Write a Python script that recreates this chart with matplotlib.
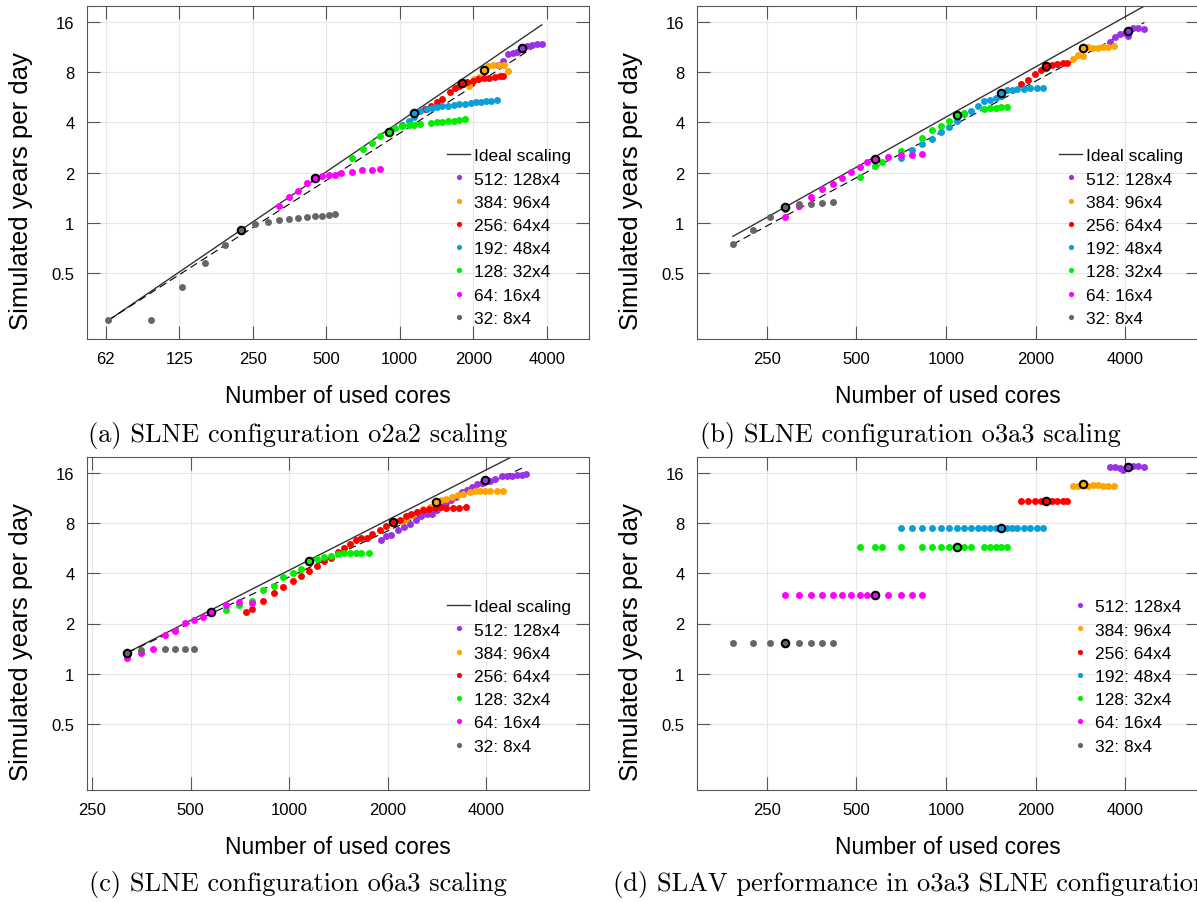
import numpy as np
import matplotlib
matplotlib.use('Agg')
import matplotlib.pyplot as plt
from matplotlib.ticker import NullLocator, FixedLocator, FixedFormatter

plt.rcParams['font.family'] = ['Liberation Sans', 'DejaVu Sans']

# Legend labels and colours, in legend order
labels = ['512: 128x4', '384: 96x4', '256: 64x4', '192: 48x4', '128: 32x4', '64: 16x4', '32: 8x4']
colors = ['#9a32e6', '#ffa500', '#ff0000', '#0a9fd8', '#00ee00', '#ff00ff', '#666666']

yticks = [0.5, 1, 2, 4, 8, 16]
ytick_labels = ['0.5', '1', '2', '4', '8', '16']

# ---- (a) SLNE o2a2 ----
a512_x = [2520, 2640, 2780, 2920, 3030, 3180, 3320, 3480, 3640, 3820]
a512_y = [8.83, 9.38, 10.23, 10.47, 10.62, 11.22, 11.49, 11.65, 11.76, 11.86]
a384_x = [1919, 2023, 2113, 2210, 2301, 2404, 2561, 2676, 2778]
a384_y = [6.64, 7.31, 7.48, 8.24, 8.71, 8.83, 8.83, 8.83, 8.13]
a256_x = [1274, 1344, 1418, 1496, 1608, 1686, 1756, 1796, 1883, 1991, 2100, 2216, 2331, 2451, 2569, 2659]
a256_y = [4.79, 5.01, 5.30, 5.52, 6.11, 6.40, 6.64, 6.86, 6.95, 7.08, 7.25, 7.35, 7.41, 7.48, 7.55, 7.62]
a192_x = [1024, 1089, 1149, 1216, 1290, 1357, 1418, 1496, 1578, 1665, 1756, 1858, 1954, 2054, 2161, 2264, 2375, 2495]
a192_y = [3.84, 4.06, 4.33, 4.70, 4.79, 4.85, 4.92, 4.99, 5.04, 5.08, 5.13, 5.18, 5.22, 5.27, 5.30, 5.35, 5.40, 5.42]
a128_x = [640, 706, 771, 834, 900, 960, 1024, 1089, 1149, 1216, 1344, 1418, 1496, 1578, 1665, 1756, 1858]
a128_y = [2.455, 2.755, 3.02, 3.297, 3.55, 3.68, 3.80, 3.84, 3.87, 3.89, 3.96, 4.0, 4.02, 4.06, 4.07, 4.11, 4.17]
a64_x = [320, 352, 384, 416, 448, 480, 512, 544, 576, 640, 704, 768, 832]
a64_y = [1.259, 1.426, 1.556, 1.738, 1.853, 1.906, 1.923, 1.941, 1.986, 2.023, 2.06, 2.08, 2.109]
a32_x = [64, 96, 128, 160, 192, 224, 256, 288, 320, 352, 384, 416, 448, 480, 512, 544]
a32_y = [0.259, 0.259, 0.411, 0.57, 0.735, 0.904, 0.977, 1.009, 1.037, 1.057, 1.072, 1.081, 1.097, 1.102, 1.112, 1.122]
# highlighted runs (black rings), smallest series first
a_circ_x = [224, 448, 900, 1149, 1796, 2210, 3180]
a_circ_y = [0.904, 1.853, 3.484, 4.53, 6.86, 8.24, 11.22]
a_fit_exp = 0.941

# ---- (b) SLNE o3a3 ----
b512_x = [3562, 3701, 3848, 4000, 4096, 4245, 4412, 4645]
b512_y = [12.19, 12.95, 13.49, 13.81, 13.25, 14.66, 14.66, 14.52]
b384_x = [2682, 2788, 2882, 2995, 3113, 3236, 3365, 3498, 3683]
b384_y = [9.55, 10.14, 10.05, 11.27, 11.12, 11.12, 11.38, 11.38, 11.49]
b256_x = [1792, 1888, 1984, 2080, 2176, 2272, 2368, 2464, 2560]
b256_y = [6.76, 7.18, 7.76, 8.21, 8.43, 8.83, 9.0, 9.04, 9.04]
b192_x = [704, 768, 832, 896, 960, 1024, 1088, 1152, 1216, 1280, 1344, 1408, 1472, 1536, 1600, 1664, 1728, 1824, 1920, 2016, 2112]
b192_y = [2.455, 2.717, 2.965, 3.19, 3.52, 3.73, 4.07, 4.47, 4.68, 4.99, 5.40, 5.45, 5.57, 5.76, 6.22, 6.25, 6.34, 6.34, 6.40, 6.40, 6.40]
b128_x = [512, 576, 608, 704, 832, 896, 960, 1024, 1088, 1152, 1344, 1408, 1472, 1536, 1600]
b128_y = [1.871, 2.188, 2.302, 2.704, 3.237, 3.6, 3.82, 4.09, 4.43, 4.53, 4.81, 4.85, 4.90, 4.92, 4.97]
b64_x = [288, 320, 352, 384, 416, 448, 480, 512, 544, 576, 640, 704, 768, 832]
b64_y = [1.081, 1.259, 1.419, 1.585, 1.706, 1.862, 2.023, 2.168, 2.302, 2.41, 2.466, 2.535, 2.547, 2.594]
b32_x = [192, 224, 256, 288, 320, 352, 384, 416]
b32_y = [0.741, 0.908, 1.081, 1.208, 1.288, 1.288, 1.306, 1.324]
b_circ_x = [288, 576, 1088, 1536, 2176, 2880, 4096]
b_circ_y = [1.24, 2.41, 4.43, 6.03, 8.67, 11.12, 14.19]
b_fit_exp = 0.963

# ---- (c) SLNE o6a3 ----
c512_x = [1915, 1984, 2055, 2154, 2241, 2339, 2440, 2540, 2632, 2726, 2824, 2924, 3029, 3125, 3237, 3369,
          3490, 3615, 3744, 3879, 4114, 4262, 4469, 4629, 4796, 4968, 5147, 5307]
c512_y = [6.33, 6.72, 6.84, 7.33, 7.61, 7.93, 8.42, 8.82, 9.06, 9.11, 9.58, 10.17, 10.61, 11.0, 11.52, 12.35,
          12.69, 13.23, 13.73, 13.99, 14.38, 14.85, 15.40, 15.40, 15.40, 15.55, 15.69, 15.77]
c384_x = [2205, 2284, 2383, 2469, 2570, 2693, 2811, 2904, 3029, 3138, 3290, 3408, 3572, 3700, 3834, 3971, 4114, 4313, 4500]
c384_y = [8.23, 8.54, 8.94, 9.36, 9.80, 10.03, 10.75, 11.0, 11.26, 11.52, 11.90, 12.07, 12.35, 12.47, 12.52, 12.52, 12.55, 12.58, 12.58]
c256_x = [736, 768, 832, 896, 960, 1024, 1088, 1152, 1216, 1280, 1344, 1408, 1472, 1536, 1600, 1664, 1728, 1792,
          1892, 1984, 2079, 2179, 2274, 2367, 2469, 2570, 2681, 2797, 2924, 3029, 3175, 3315, 3466]
c256_y = [2.347, 2.458, 2.746, 3.053, 3.302, 3.588, 3.845, 4.139, 4.456, 4.731, 4.955, 5.383, 5.716, 6.04, 6.33, 6.53, 6.56, 6.91,
          7.33, 7.71, 8.12, 8.42, 8.82, 9.06, 9.36, 9.58, 9.71, 9.90, 10.03, 9.94, 9.94, 9.94, 10.08]
c128_x = [640, 704, 768, 832, 896, 960, 1024, 1088, 1152, 1216, 1280, 1344, 1408, 1472, 1536, 1600, 1664, 1760]
c128_y = [2.402, 2.598, 2.733, 3.167, 3.378, 3.827, 4.045, 4.255, 4.775, 4.91, 5.02, 5.09, 5.24, 5.28, 5.28, 5.31, 5.31, 5.31]
c64_x = [320, 352, 384, 416, 448, 480, 512, 544, 576, 640, 704, 768]
c64_y = [1.242, 1.337, 1.40, 1.715, 1.796, 2.016, 2.092, 2.19, 2.358, 2.574, 2.695, 2.671]
c32_x = [320, 352, 416, 448, 480, 512]
c32_y = [1.337, 1.381, 1.406, 1.413, 1.413, 1.413]
c_circ_x = [320, 576, 1152, 2079, 2811, 3971]
c_circ_y = [1.337, 2.358, 4.775, 8.12, 10.75, 14.51]
c_fit_exp = 0.918

# ---- (d) SLAV performance, o3a3 ----
d512_x = [3562, 3701, 3848, 3948, 4096, 4245, 4412, 4645]
d512_y = [17.3, 17.3, 17.1, 16.7, 17.4, 17.6, 17.6, 17.4]
d384_x = [2682, 2788, 2882, 2995, 3113, 3236, 3365, 3498, 3683]
d384_y = [13.48, 13.48, 13.6, 13.48, 13.55, 13.55, 13.48, 13.48, 13.48]
d256_x = [1792, 1888, 1984, 2080, 2176, 2272, 2368, 2464, 2560]
d256_y = [10.85, 10.85, 10.85, 10.85, 10.85, 10.85, 10.85, 10.85, 10.85]
d192_x = [704, 768, 832, 896, 960, 1024, 1088, 1152, 1216, 1280, 1344, 1408, 1472, 1536, 1600, 1664, 1728, 1824, 1920, 2016, 2112]
d192_y = [7.47] * 21
d128_x = [512, 576, 608, 704, 832, 896, 960, 1024, 1088, 1152, 1216, 1344, 1408, 1472, 1536, 1600]
d128_y = [5.74] * 16
d64_x = [288, 320, 352, 384, 416, 448, 480, 512, 544, 576, 640, 704, 768, 832]
d64_y = [2.98] * 14
d32_x = [192, 224, 256, 288, 320, 352, 384, 416]
d32_y = [1.52] * 8
d_circ_x = [288, 576, 1088, 1536, 2176, 2880, 4096]
d_circ_y = [1.52, 2.98, 5.74, 7.47, 10.85, 13.73, 17.42]


def draw_panel(ax, series, circ_x, circ_y, fit_exp, xlim, xticks, xticklabels, legend_x, ideal=True):
    names = [s[2] for s in series]
    all_x = np.concatenate([s[0] for s in series])
    if ideal:
        # ideal scaling through the first highlighted run, dashed fit from the first point
        xs = np.array([all_x.min(), all_x.max()])
        ax.plot(xs, circ_y[0] * xs / circ_x[0], '-', color='#333333', lw=1.0,
                label='Ideal scaling', zorder=2)
        x0, y0 = series[-1][0][0], series[-1][1][0]
        ax.plot(xs, y0 * (xs / x0) ** fit_exp, color='black', lw=0.8,
                dashes=(7, 4), zorder=2)
    for x, y, name in series:
        c = colors[labels.index(name)]
        ax.plot(x, y, 'o', ms=5.0, mew=0, color=c, label=name, zorder=3)
    # ring markers use the colour of the series they belong to (smallest first)
    ring_cols = [colors[labels.index(n)] for n in names[::-1]]
    for cx, cy, cc in zip(circ_x, circ_y, ring_cols):
        ax.plot(cx, cy, 'o', ms=5.4, mfc=cc, mec='black', mew=1.5, zorder=4)

    ax.set_xscale('log', base=2)
    ax.set_yscale('log', base=2)
    ax.set_xlim(*xlim)
    ax.set_ylim(0.2, 20)
    ax.xaxis.set_major_locator(FixedLocator(xticks))
    ax.xaxis.set_major_formatter(FixedFormatter(xticklabels))
    ax.yaxis.set_major_locator(FixedLocator(yticks))
    ax.yaxis.set_major_formatter(FixedFormatter(ytick_labels))
    ax.xaxis.set_minor_locator(NullLocator())
    ax.yaxis.set_minor_locator(NullLocator())
    ax.tick_params(which='major', direction='in', length=9.5, width=0.8, color='#555555',
                   top=True, right=True, labelsize=12, pad=9)
    ax.grid(True, color='#e6e6e6', lw=0.8)
    ax.set_axisbelow(True)
    for sp in ax.spines.values():
        sp.set_color('#555555')
        sp.set_linewidth(0.8)

    ax.set_xlabel('Number of used cores', fontsize=16.5)
    ax.xaxis.set_label_coords(0.5, -0.134)
    ax.set_ylabel('Simulated years per day', fontsize=18.5)
    ax.yaxis.set_label_coords(-0.108, 0.447)

    ax.legend(loc='upper left', bbox_to_anchor=(legend_x, 0.573), frameon=False, fontsize=12.5,
              handlelength=1.35, handletextpad=0.2, labelspacing=0.465, borderpad=0,
              borderaxespad=0, markerscale=0.75)


fig = plt.figure(figsize=(11.97, 9.03), dpi=100)
W, H = 1197.0, 903.0
ax_a = fig.add_axes([87 / W, 1 - 340 / H, 502 / W, 333 / H])
ax_b = fig.add_axes([697 / W, 1 - 340 / H, 502 / W, 333 / H])
ax_c = fig.add_axes([87 / W, 1 - 791 / H, 502 / W, 333 / H])
ax_d = fig.add_axes([697 / W, 1 - 791 / H, 502 / W, 333 / H])

x_a = [62.5, 125, 250, 500, 1000, 2000, 4000]
x_a_lab = ['62', '125', '250', '500', '1000', '2000', '4000']
x_b = [250, 500, 1000, 2000, 4000]
x_b_lab = ['250', '500', '1000', '2000', '4000']

draw_panel(ax_a, [(a512_x, a512_y, labels[0]), (a384_x, a384_y, labels[1]), (a256_x, a256_y, labels[2]),
                  (a192_x, a192_y, labels[3]), (a128_x, a128_y, labels[4]), (a64_x, a64_y, labels[5]),
                  (a32_x, a32_y, labels[6])],
           a_circ_x, a_circ_y, a_fit_exp, (52.4, 5960), x_a, x_a_lab, 0.717)
draw_panel(ax_b, [(b512_x, b512_y, labels[0]), (b384_x, b384_y, labels[1]), (b256_x, b256_y, labels[2]),
                  (b192_x, b192_y, labels[3]), (b128_x, b128_y, labels[4]), (b64_x, b64_y, labels[5]),
                  (b32_x, b32_y, labels[6])],
           b_circ_x, b_circ_y, b_fit_exp, (145.5, 7088), x_b, x_b_lab, 0.721)
draw_panel(ax_c, [(c512_x, c512_y, labels[0]), (c384_x, c384_y, labels[1]), (c256_x, c256_y, labels[2]),
                  (c128_x, c128_y, labels[4]), (c64_x, c64_y, labels[5]), (c32_x, c32_y, labels[6])],
           c_circ_x, c_circ_y, c_fit_exp, (240.8, 8264), x_b, x_b_lab, 0.717)
draw_panel(ax_d, [(d512_x, d512_y, labels[0]), (d384_x, d384_y, labels[1]), (d256_x, d256_y, labels[2]),
                  (d192_x, d192_y, labels[3]), (d128_x, d128_y, labels[4]), (d64_x, d64_y, labels[5]),
                  (d32_x, d32_y, labels[6])],
           d_circ_x, d_circ_y, None, (145.5, 7088), x_b, x_b_lab, 0.739, ideal=False)

# captions (the last one runs past the right edge, as in the source figure)
cap = dict(fontfamily='cmr10', fontsize=19, ha='center', va='center')
fig.text(298 / W, 1 - 436 / H, '(a) SLNE configuration o2a2 scaling', **cap)
fig.text(910 / W, 1 - 436 / H, '(b) SLNE configuration o3a3 scaling', **cap)
fig.text(298 / W, 1 - 885 / H, '(c) SLNE configuration o6a3 scaling', **cap)
fig.text(910 / W, 1 - 885 / H, '(d) SLAV performance in o3a3 SLNE configuration', **cap)

fig.savefig('out.png', dpi=100)
